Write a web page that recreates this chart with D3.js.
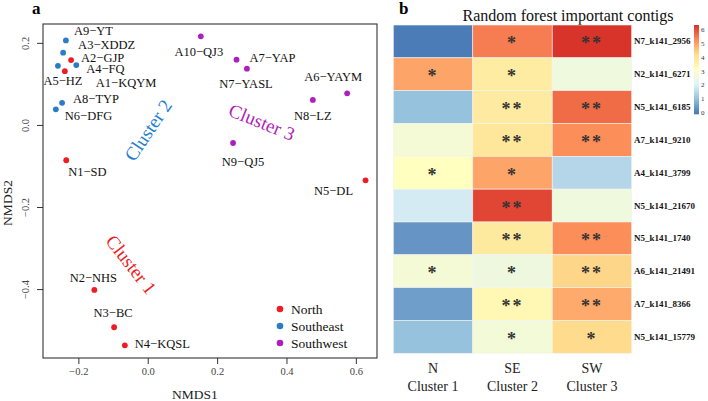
<!DOCTYPE html>
<html>
<head>
<meta charset="utf-8">
<script src="https://cdn.jsdelivr.net/npm/d3@7"></script>
<style>
  html, body { margin: 0; padding: 0; background: #fff; }
  svg { display: block; font-family: "Liberation Serif", "DejaVu Serif", serif; }
</style>
</head>
<body>
<svg id="chart" width="708" height="401"></svg>
<script>
// ---------- Panel a: NMDS data ----------
const sampleNames = ["A9−YT","A3−XDDZ","A2−GJP","A4−FQ","A5−HZ","A1−KQYM","A8−TYP","N6−DFG","N1−SD",
  "A10−QJ3","A7−YAP","N7−YASL","A6−YAYM","N8−LZ","N9−QJ5","N5−DL","N2−NHS","N3−BC","N4−KQSL"];
const nmds1 = [-0.236,-0.244,-0.221,-0.206,-0.259,-0.239,-0.247,-0.265,-0.235,
  0.153,0.256,0.286,0.575,0.476,0.246,0.628,-0.154,-0.097,-0.066];
const nmds2 = [0.206,0.176,0.158,0.146,0.144,0.131,0.054,0.038,-0.086,
  0.216,0.159,0.137,0.077,0.061,-0.044,-0.135,-0.402,-0.493,-0.537];
const regions = ["Southeast","Southeast","North","Southeast","Southeast","North","Southeast","Southeast","North",
  "Southwest","Southwest","Southwest","Southwest","Southwest","Southwest","North","North","North","North"];
const regionNames = ["North","Southeast","Southwest"];
const xTicks = [-0.2, 0.0, 0.2, 0.4, 0.6];
const yTicks = [-0.4, -0.2, 0.0, 0.2];
const clusterNames = ["Cluster 1","Cluster 2","Cluster 3"];
const clusterX = [-0.048, 0.001, 0.329];
const clusterY = [-0.340, -0.013, 0.007];

// ---------- Panel b: heatmap data ----------
const contigs = ["N7_k141_2956","N2_k141_6271","N5_k141_6185","A7_k141_9210","A4_k141_3799",
  "N5_k141_21670","N5_k141_1740","A6_k141_21491","A7_k141_8366","N5_k141_15779"];
const groups = ["N","SE","SW"];
const groupClusters = ["Cluster 1","Cluster 2","Cluster 3"];
const valuesN  = [0.0, 5.0, 1.05, 2.73, 3.15, 1.9, 0.36, 2.73, 0.5, 1.05];
const valuesSE = [5.5, 3.8, 3.85, 4.0, 5.0, 6.14, 3.9, 2.55, 3.4, 2.7];
const valuesSW = [6.35, 2.58, 5.7, 5.3, 1.46, 2.58, 5.3, 4.37, 4.94, 4.3];
const starsN  = ["","*","","","*","","","*","",""];
const starsSE = ["*","*","**","**","*","**","**","*","**","*"];
const starsSW = ["**","","**","**","","","**","**","**","*"];
const legendTicks = [0,1,2,3,4,5,6];
const heatTitle = "Random forest important contigs";

// ---------- Styles / layout ----------
const regionColor = d3.scaleOrdinal().domain(regionNames).range(["#ee1d23","#2b7cc7","#ad1fbf"]);
const clusterColor = ["#ee1d23","#1f7fd0","#b01fb8"];
const clusterAngle = [52, -56, 22];
const labelOffset = {
  "A9−YT":[8,-9.5,"start"], "A3−XDDZ":[15,-7.5,"start"], "A2−GJP":[10,-2.5,"start"], "A4−FQ":[10,4,"start"],
  "A5−HZ":[5,15,"middle"], "A1−KQYM":[31,12,"start"], "A8−TYP":[11,-4,"start"], "N6−DFG":[9,7,"start"],
  "N1−SD":[2,12,"start"], "A10−QJ3":[-2,16,"middle"], "A7−YAP":[13,-2,"start"], "N7−YASL":[-1,15,"middle"],
  "A6−YAYM":[-14,-16,"middle"], "N8−LZ":[0,16,"middle"], "N9−QJ5":[10,19,"middle"], "N5−DL":[-32,11,"middle"],
  "N2−NHS":[-1,-12,"middle"], "N3−BC":[-1,-14,"middle"], "N4−KQSL":[10,-1,"start"]
};

const svg = d3.select("#chart");

// ===== Panel a =====
const ax = {left: 43, right: 377, top: 24, bottom: 358};
const x = d3.scaleLinear().domain([-0.302, 0.661]).range([ax.left, ax.right]);
const y = d3.scaleLinear().domain([-0.568, 0.246]).range([ax.bottom, ax.top]);
const fmt = d3.format(".1f");

svg.append("text").attr("x", 32).attr("y", 14).attr("font-weight", "bold").attr("font-size", 17).text("a");

const gx = svg.append("g").attr("transform", `translate(0,${ax.bottom})`)
  .call(d3.axisBottom(x).tickValues(xTicks).tickFormat(fmt).tickSize(6).tickPadding(4));
gx.select(".domain").remove();
gx.selectAll("text").attr("font-family", "Liberation Serif").attr("font-size", 10.5).attr("fill", "#444");
gx.selectAll("line").attr("stroke", "#333");

const gy = svg.append("g").attr("transform", `translate(${ax.left},0)`)
  .call(d3.axisLeft(y).tickValues(yTicks).tickFormat(fmt).tickSize(6));
gy.select(".domain").remove();
gy.selectAll("line").attr("stroke", "#333");
gy.selectAll("text").attr("font-family", "Liberation Serif").attr("font-size", 10.5).attr("fill", "#444")
  .attr("x", null).attr("dy", null).attr("text-anchor", "middle")
  .attr("transform", "translate(-14,0) rotate(-90)");

svg.append("rect").attr("x", ax.left).attr("y", ax.top)
  .attr("width", ax.right - ax.left).attr("height", ax.bottom - ax.top)
  .attr("fill", "none").attr("stroke", "#333").attr("stroke-width", 1.1);

svg.append("text").attr("x", 195).attr("y", 399).attr("text-anchor", "middle")
  .attr("font-size", 13.5).attr("fill", "#222").text("NMDS1");
svg.append("text").attr("transform", "translate(12,203) rotate(-90)").attr("text-anchor", "middle")
  .attr("font-size", 13.5).attr("fill", "#222").text("NMDS2");

const pts = sampleNames.map((n, i) => ({name: n, x: nmds1[i], y: nmds2[i], region: regions[i]}));
svg.append("g").selectAll("circle").data(pts).join("circle")
  .attr("cx", d => x(d.x)).attr("cy", d => y(d.y)).attr("r", 2.9)
  .attr("fill", d => regionColor(d.region));
svg.append("g").selectAll("text").data(pts).join("text")
  .attr("x", d => x(d.x) + labelOffset[d.name][0])
  .attr("y", d => y(d.y) + labelOffset[d.name][1])
  .attr("text-anchor", d => labelOffset[d.name][2])
  .attr("dominant-baseline", "central")
  .attr("font-size", 12.5).attr("fill", "#111").text(d => d.name);

clusterNames.forEach((c, i) => {
  svg.append("text")
    .attr("transform", `translate(${x(clusterX[i])},${y(clusterY[i])}) rotate(${clusterAngle[i]})`)
    .attr("text-anchor", "middle").attr("dominant-baseline", "central")
    .attr("font-size", 19).attr("fill", clusterColor[i]).text(c);
});

const leg = svg.append("g");
regionNames.forEach((r, i) => {
  const yy = 309 + i * 17;
  leg.append("circle").attr("cx", 280).attr("cy", yy).attr("r", 3.3).attr("fill", regionColor(r));
  leg.append("text").attr("x", 291).attr("y", yy).attr("dominant-baseline", "central")
    .attr("font-size", 13.5).attr("fill", "#111").text(r);
});

// ===== Panel b =====
svg.append("text").attr("x", 399).attr("y", 14).attr("font-weight", "bold").attr("font-size", 17).text("b");
svg.append("text").attr("x", 568).attr("y", 15).attr("text-anchor", "middle").attr("dominant-baseline", "central")
  .attr("font-size", 16).attr("fill", "#111").text(heatTitle);

const hx = d3.scaleBand().domain(groups).range([393.3, 631.7]);
const hy = d3.scaleBand().domain(contigs).range([25, 353.3]);
const vmin = -0.1, vmax = 6.4;
const palette = ["#4575b4","#91bfdb","#e0f3f8","#ffffbf","#fee090","#fc8d59","#d73027"];
const color = d3.scaleLinear()
  .domain(palette.map((_, i) => vmin + (vmax - vmin) * i / (palette.length - 1)))
  .range(palette).interpolate(d3.interpolateRgb).clamp(true);

const valueCols = [valuesN, valuesSE, valuesSW];
const starCols = [starsN, starsSE, starsSW];
const cells = [];
contigs.forEach((c, r) => groups.forEach((g, k) => {
  cells.push({contig: c, group: g, v: valueCols[k][r], s: starCols[k][r]});
}));

svg.append("g").selectAll("rect").data(cells).join("rect")
  .attr("x", d => hx(d.group)).attr("y", d => hy(d.contig))
  .attr("width", hx.bandwidth()).attr("height", hy.bandwidth())
  .attr("fill", d => color(d.v)).attr("stroke", "#f4f4f4").attr("stroke-width", 0.6);

svg.append("g").selectAll("text").data(cells.filter(d => d.s)).join("text")
  .attr("x", d => hx(d.group) + hx.bandwidth() / 2)
  .attr("y", d => hy(d.contig) + hy.bandwidth() / 2 + 8)
  .attr("text-anchor", "middle").attr("font-size", 18).attr("font-weight", "bold")
  .attr("letter-spacing", 2).attr("fill", "#333").text(d => d.s);

svg.append("g").selectAll("text").data(contigs).join("text")
  .attr("x", 634).attr("y", d => hy(d) + hy.bandwidth() / 2)
  .attr("dominant-baseline", "central").attr("font-size", 9).attr("font-weight", "bold")
  .attr("fill", "#111").text(d => d);

groups.forEach((g, k) => {
  const cx = hx(g) + hx.bandwidth() / 2;
  svg.append("text").attr("x", cx).attr("y", 368).attr("text-anchor", "middle").attr("dominant-baseline", "central")
    .attr("font-size", 14).attr("fill", "#222").text(g);
  svg.append("text").attr("x", cx).attr("y", 386).attr("text-anchor", "middle").attr("dominant-baseline", "central")
    .attr("font-size", 14).attr("fill", "#222").text(groupClusters[k]);
});

// color bar
const cbScale = d3.scaleLinear().domain([vmin, vmax]).range([114.3, 25]);
const defs = svg.append("defs");
const grad = defs.append("linearGradient").attr("id", "cbgrad")
  .attr("x1", 0).attr("y1", 1).attr("x2", 0).attr("y2", 0);
palette.forEach((p, i) => grad.append("stop").attr("offset", i / (palette.length - 1)).attr("stop-color", p));
svg.append("rect").attr("x", 694).attr("y", 25).attr("width", 5).attr("height", 89.3).attr("fill", "url(#cbgrad)");
svg.append("g").selectAll("text").data(legendTicks).join("text")
  .attr("x", 701).attr("y", d => cbScale(d)).attr("dominant-baseline", "central")
  .attr("font-size", 7).attr("fill", "#333").text(d => d);
</script>
</body>
</html>
